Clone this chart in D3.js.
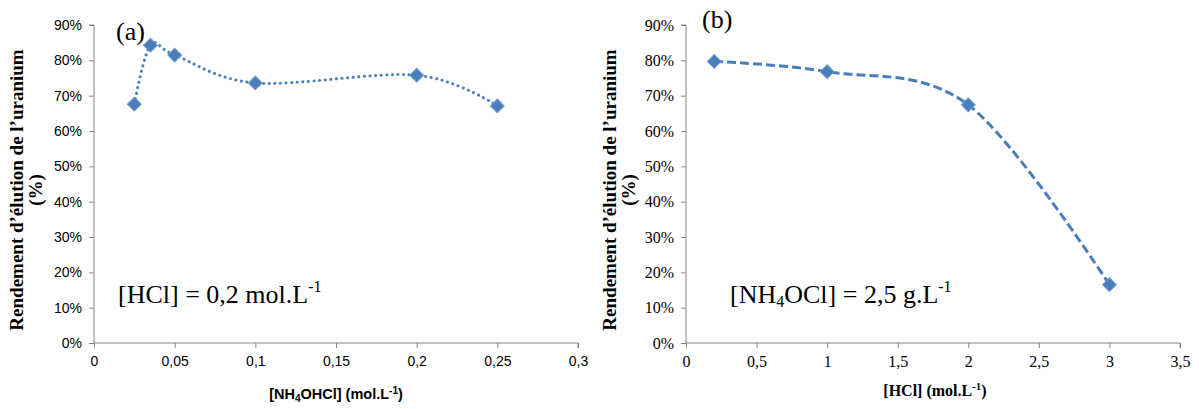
<!DOCTYPE html>
<html><head><meta charset="utf-8">
<script src="https://cdn.jsdelivr.net/npm/d3@7"></script>
<style>
body{margin:0;background:#fff;}
svg{display:block;}
.serifTick text{font-family:"Liberation Serif","Times New Roman",serif !important;}
.sansTick text{font-family:"Liberation Sans",Arial,sans-serif !important;}
</style></head>
<body>
<svg id="c" width="1199" height="409"></svg>
<script>
// Data
const xA = [0.025, 0.035, 0.05, 0.1, 0.2, 0.25];
const yA = [0.676, 0.843, 0.815, 0.736, 0.758, 0.671];
const xB = [0.2, 1, 2, 3];
const yB = [0.797, 0.768, 0.674, 0.165];
const yTicks = [0,0.1,0.2,0.3,0.4,0.5,0.6,0.7,0.8,0.9];
const xTicksA = [0,0.05,0.1,0.15,0.2,0.25,0.3];
const xTicksB = [0,0.5,1,1.5,2,2.5,3,3.5];

const svg = d3.select("#c");
const blue = "#4A7EBB";
const axisCol = "#868686";
const fmtComma = d => String(d).replace(".", ",");
const fmtPct = d => Math.round(d*100) + "%";

function panel(o){
  const g = svg.append("g");
  const x = d3.scaleLinear().domain(o.xDomain).range(o.xRange);
  const y = d3.scaleLinear().domain([0,0.9]).range([343,25]);
  const ya = g.append("g").attr("class",o.tickClass).attr("transform",`translate(${o.xRange[0]},0)`)
    .call(d3.axisLeft(y).tickValues(yTicks).tickFormat(fmtPct).tickSize(5).tickPadding(7));
  ya.attr("font-family",null).attr("font-size",null);
  ya.selectAll("path,line").attr("stroke",axisCol).attr("stroke-width",1);
  ya.selectAll("text").style("font-size",o.tickSize+"px").attr("fill","#000");
  ya.select(".domain").attr("d",`M-5,${y(0.9)}H0V${y(0)}`);
  const xa = g.append("g").attr("class",o.tickClass).attr("transform",`translate(0,343)`)
    .call(d3.axisBottom(x).tickValues(o.xTicks).tickFormat(fmtComma).tickSize(5).tickPadding(8));
  xa.attr("font-family",null).attr("font-size",null);
  xa.selectAll("path,line").attr("stroke",axisCol).attr("stroke-width",1);
  xa.select(".domain").attr("d",`M${o.xRange[0]},0H${o.xRange[1]}V5`);
  xa.selectAll("text").style("font-size",o.tickSize+"px").attr("fill","#000");

  const pts = o.xs.map((v,i)=>[v,o.ys[i]]);
  const line = d3.line().x(d=>x(d[0])).y(d=>y(d[1])).curve(d3.curveCardinal.tension(0));
  g.append("path").attr("d",line(pts)).attr("fill","none").attr("stroke",blue)
    .attr("stroke-width",3).attr("stroke-linecap",o.cap).attr("stroke-dasharray",o.dash);
  const sym = d3.symbol(d3.symbolSquare, 95);
  g.selectAll(".m").data(pts).join("path").attr("d",sym)
    .attr("transform",d=>`translate(${x(d[0])},${y(d[1])}) rotate(45)`)
    .attr("fill",blue).attr("stroke","#6d98cf").attr("stroke-width",1);

  // y title
  const t = g.append("text").attr("transform",`translate(${o.ytX},190) rotate(-90)`)
    .attr("text-anchor","middle").style("font-family","'Liberation Serif', serif").attr("font-weight","bold")
    .style("font-size","19px");
  t.append("tspan").attr("x",0).attr("y",0).text("Rendement d’élution de l’uranium");
  t.append("tspan").attr("x",0).attr("y",19).text("(%)");
  return {g,x,y};
}

const A = panel({xDomain:[0,0.3], xRange:[94,578], xTicks:xTicksA, xs:xA, ys:yA,
  tickClass:"sansTick", tickSize:14, cap:"round", dash:"0.1 5.5", ytX:23});
const B = panel({xDomain:[0,3.5], xRange:[686,1180], xTicks:xTicksB, xs:xB, ys:yB,
  tickClass:"serifTick", tickSize:16, cap:"butt", dash:"9 4", ytX:616});

// x titles
const tA = svg.append("text").attr("x",336).attr("y",399).attr("text-anchor","middle")
  .style("font-family","'Liberation Sans', sans-serif").attr("font-weight","bold").style("font-size","14.5px");
tA.append("tspan").text("[NH");
tA.append("tspan").style("font-size","10px").attr("dy",3).text("4");
tA.append("tspan").attr("dy",-3).text("OHCl] (mol.L");
tA.append("tspan").style("font-size","10px").attr("dy",-5).text("-1");
tA.append("tspan").attr("dy",5).text(")");

const tB = svg.append("text").attr("x",935).attr("y",396).attr("text-anchor","middle")
  .style("font-family","'Liberation Serif', serif").attr("font-weight","bold").style("font-size","16px");
tB.append("tspan").text("[HCl] (mol.L");
tB.append("tspan").style("font-size","11px").attr("dy",-6).text("-1");
tB.append("tspan").attr("dy",6).text(")");

// annotations
const serif = "'Liberation Serif', serif";
svg.append("text").attr("x",116).attr("y",40).style("font-family",serif).style("font-size","26px").text("(a)");
svg.append("text").attr("x",702).attr("y",28).style("font-family",serif).style("font-size","26px").text("(b)");
const aA = svg.append("text").attr("x",118).attr("y",303).style("font-family",serif).style("font-size","26px");
aA.append("tspan").text("[HCl] = 0,2 mol.L");
aA.append("tspan").style("font-size","16px").attr("dy",-11).text("-1");
const aB = svg.append("text").attr("x",730).attr("y",303).style("font-family",serif).style("font-size","26px");
aB.append("tspan").text("[NH");
aB.append("tspan").style("font-size","16px").attr("dy",4).text("4");
aB.append("tspan").attr("dy",-4).text("OCl] = 2,5 g.L");
aB.append("tspan").style("font-size","16px").attr("dy",-11).text("-1");
</script>
</body></html>
